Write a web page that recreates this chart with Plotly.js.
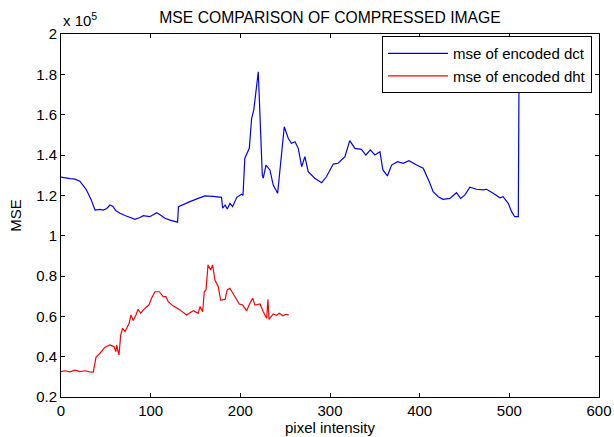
<!DOCTYPE html>
<html><head><meta charset="utf-8">
<script src="https://cdn.plot.ly/plotly-3.0.1.min.js"></script>
<style>html,body{margin:0;padding:0;background:#fff}#chart{width:614px;height:437px}</style>
</head><body><div id="chart"></div>
<script>
// values in units of 1e5
const dctX = [0,5.6,10,15.6,21,28,33.5,38,43.5,47,51,54.6,58,61,65.8,71.4,77,82.5,88,91.8,99,106.7,110,116,121.5,127,130,131,134.6,139,143.8,153,160.6,169.5,179,180.3,183,185.4,188.4,191.4,196,201.5,203,205,210,212.6,215,220,224.5,225.6,228.6,233,235,236.7,241.6,245,249,253.4,257,261,264.6,268.4,272,275.7,283,290.7,296,303.6,309,316.7,322,327.8,335,340,345,350,355.7,359,364,368.7,375.4,381.6,388,396.6,404,411.4,415,420.7,426,433.7,441,445.7,450.5,456,463.5,471,474.6,482,489.5,493,498.8,502.5,506,510,511];
const dctY = [1.29,1.285,1.283,1.28,1.27,1.23,1.18,1.127,1.13,1.127,1.135,1.152,1.145,1.125,1.111,1.10,1.09,1.081,1.09,1.099,1.094,1.114,1.105,1.086,1.077,1.069,1.067,1.144,1.152,1.16,1.169,1.185,1.197,1.195,1.19,1.136,1.152,1.132,1.16,1.144,1.19,1.205,1.20,1.384,1.433,1.582,1.623,1.813,1.30,1.285,1.35,1.326,1.29,1.251,1.21,1.375,1.54,1.483,1.458,1.466,1.433,1.342,1.392,1.317,1.285,1.263,1.292,1.355,1.359,1.392,1.471,1.433,1.428,1.40,1.425,1.40,1.416,1.326,1.296,1.35,1.367,1.359,1.372,1.35,1.334,1.26,1.218,1.193,1.18,1.185,1.213,1.185,1.202,1.24,1.23,1.227,1.23,1.21,1.188,1.193,1.16,1.119,1.094,1.094,1.96];
const dhtX = [0,4.5,10,15.6,21,26.8,32,36,39,43.5,49,54.6,59,61.3,62,64.7,66.6,68.8,71.4,74,76,78,80.6,83.6,86,88.9,91.8,98,101,104.8,109.6,114,117,119.6,125,132.7,140,147.5,153,155,158,159.8,161.7,164,167,169,171.7,175.4,178,183,185.4,188.4,192,195,198.8,202.6,207,210.7,213.7,216.3,222,225.6,229.4,230.8,232,236.7,240.5,243.4,247.5,251,254];
const dhtY = [0.326,0.33,0.325,0.333,0.326,0.33,0.325,0.323,0.397,0.417,0.447,0.458,0.45,0.425,0.458,0.408,0.508,0.541,0.524,0.552,0.566,0.607,0.579,0.607,0.635,0.615,0.632,0.656,0.69,0.722,0.722,0.698,0.698,0.673,0.652,0.632,0.607,0.628,0.615,0.648,0.623,0.722,0.731,0.855,0.83,0.855,0.78,0.747,0.681,0.684,0.731,0.739,0.714,0.69,0.661,0.656,0.628,0.665,0.69,0.656,0.661,0.623,0.59,0.685,0.585,0.612,0.605,0.615,0.603,0.61,0.607];
const seriesNames = ['mse of encoded dct','mse of encoded dht'];
const xTicks = [0,100,200,300,400,500,600];
const xTickLabels = ['0','100','200','300','400','500','600'];
const yTicks = [0.2,0.4,0.6,0.8,1,1.2,1.4,1.6,1.8,2];
const yTickLabels = ['0.2','0.4','0.6','0.8','1','1.2','1.4','1.6','1.8','2'];

const F = 'Arial, "Liberation Sans", Helvetica, sans-serif';
const traces = [
  {x: dctX, y: dctY, name: seriesNames[0], type: 'scatter', mode: 'lines', line: {color: '#0000ff', width: 1.2}},
  {x: dhtX, y: dhtY, name: seriesNames[1], type: 'scatter', mode: 'lines', line: {color: '#ff0000', width: 1.2}}
];
const axisCommon = {showline: true, linecolor: '#000', linewidth: 1, mirror: 'ticks', ticks: 'inside', ticklen: 4, tickcolor: '#000', showgrid: false, zeroline: false, tickfont: {family: F, size: 15, color: '#000'}};
const layout = {
  width: 614, height: 437,
  margin: {l: 61, r: 15, t: 34, b: 40},
  paper_bgcolor: '#fff', plot_bgcolor: '#fff',
  font: {family: F, size: 15, color: '#000'},
  title: {text: 'MSE COMPARISON OF COMPRESSED IMAGE', font: {family: F, size: 15.7, color: '#000'}, x: 0.5, xref: 'paper', y: 1 - 18/437, yref: 'container', yanchor: 'middle'},
  xaxis: Object.assign({}, axisCommon, {range: [0, 600], tickvals: xTicks, ticktext: xTickLabels, title: {text: 'pixel intensity', font: {family: F, size: 15, color: '#000'}, standoff: 2}}),
  yaxis: Object.assign({}, axisCommon, {range: [0.2, 2], tickvals: yTicks, ticktext: yTickLabels, title: {text: 'MSE', font: {family: F, size: 15, color: '#000'}, standoff: 10}}),
  showlegend: true,
  legend: {x: 0.987, xanchor: 'right', y: 0.994, yanchor: 'top', bgcolor: '#fff', bordercolor: '#000', borderwidth: 1, font: {family: F, size: 15, color: '#000'}, itemwidth: 60, tracegroupgap: 0},
  annotations: [{text: 'x 10<sup>5</sup>', xref: 'paper', yref: 'paper', x: 0, xanchor: 'left', y: 1, yanchor: 'bottom', yshift: 3, showarrow: false, font: {family: F, size: 15, color: '#000'}}]
};
Plotly.newPlot('chart', traces, layout, {displayModeBar: false, staticPlot: true});
</script>
</body></html>
